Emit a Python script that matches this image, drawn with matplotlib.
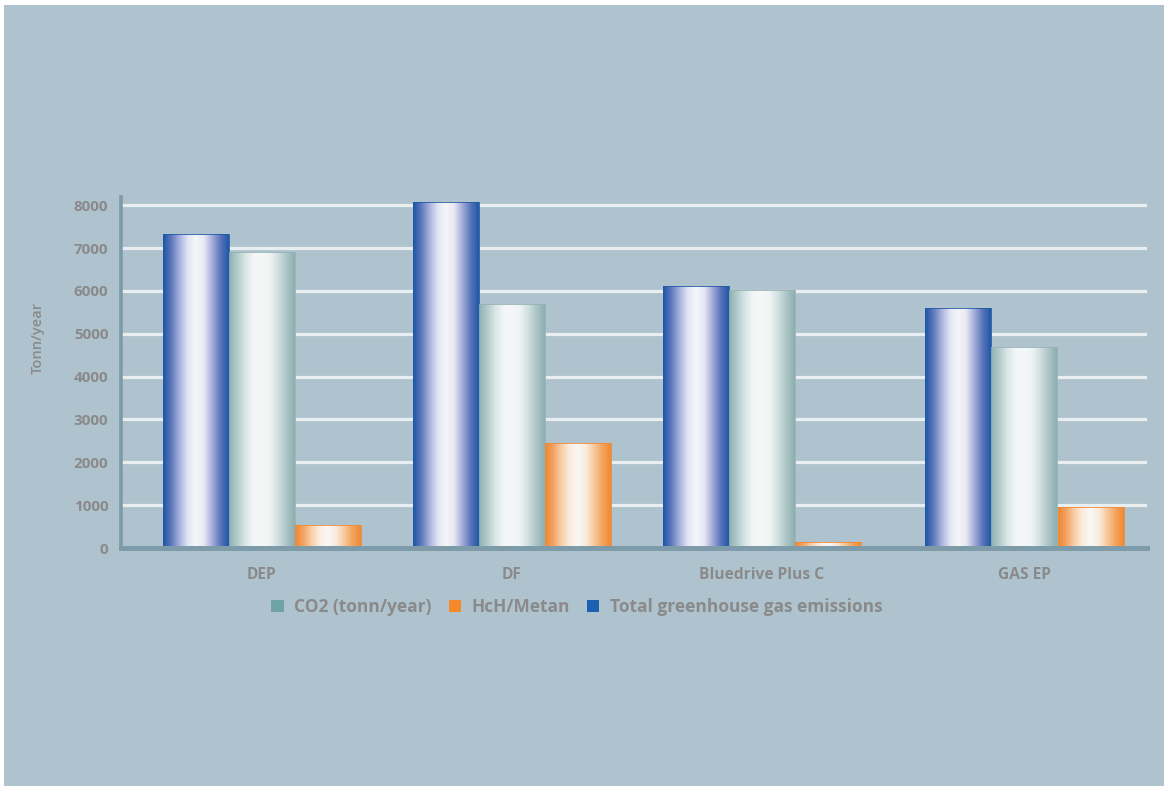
import numpy as np
import matplotlib
matplotlib.use("Agg")
import matplotlib.pyplot as plt
from matplotlib.colors import LinearSegmentedColormap
from matplotlib.patches import Patch, Rectangle

# ---- data -------------------------------------------------------------
categories = ["DEP", "DF", "Bluedrive Plus C", "GAS EP"]
total_ghg = [7330, 8080, 6120, 5610]   # Total greenhouse gas emissions
co2 = [6900, 5700, 6030, 4680]         # CO2 (tonn/year)
hch_metan = [530, 2440, 150, 950]      # HcH/Metan
y_ticks = [0, 1000, 2000, 3000, 4000, 5000, 6000, 7000, 8000]

# ---- layout / style ---------------------------------------------------
group_pos = np.array([0.0, 1.0, 2.0, 3.05])
bar_w = 0.264
bg = "#afc3ce"
axis_col = "#7d9ba8"
text_col = "#8a8a8a"
font = ["Open Sans", "DejaVu Sans"]

gradients = {
    "blue": ["#1a55a5", "#5f78bd", "#a7b1dc", "#e2e5f3", "#f6f7fa",
             "#e6e8f4", "#a3acd9", "#5a74bb", "#1f58a7"],
    "green": ["#8fb0b1", "#b3cbcb", "#dbe6e6", "#f3f6f6", "#f6f8f8",
              "#eef3f3", "#d0dfdf", "#abc4c4", "#8eaeaf"],
    "orange": ["#ef8630", "#f3a463", "#f8cfa8", "#fbeee2", "#f8f7f6",
               "#faeadb", "#f7c89b", "#f2a35d", "#ee8a35"],
}
edge_cols = {"blue": "#2159a6", "green": "#94b3b4", "orange": "#ef8a35"}
legend_cols = {"green": "#6fa3a6", "orange": "#f5892a", "blue": "#1e60b0"}

fig = plt.figure(figsize=(11.64, 7.86), dpi=100, facecolor="white")
fig.patches.append(Rectangle((4 / 1164, 0), 1 - 4 / 1164, 1 - 5 / 786,
                             transform=fig.transFigure, facecolor=bg,
                             edgecolor="none", zorder=-10))

ax = fig.add_axes([121 / 1164, 1 - 548 / 786, (1147 - 121) / 1164, 351 / 786])
ax.set_facecolor("none")

series = [(total_ghg, "blue", -bar_w), (co2, "green", 0.0), (hch_metan, "orange", bar_w)]

for values, key, offset in series:
    cmap = LinearSegmentedColormap.from_list(key, gradients[key])
    grad = np.linspace(0, 1, 256).reshape(1, -1)
    bars = ax.bar(group_pos + offset, values, width=bar_w, facecolor="none",
                  edgecolor=edge_cols[key], linewidth=0.6, zorder=3)
    for rect in bars:
        x0, y0 = rect.get_x(), rect.get_y()
        x1, y1 = x0 + rect.get_width(), y0 + rect.get_height()
        im = ax.imshow(grad, cmap=cmap, extent=[x0, x1, y0, y1],
                       aspect="auto", interpolation="bilinear", zorder=2)
        im.set_clip_path(rect)

ax.set_xlim(-0.564, 3.54)
ax.set_ylim(0, 8190)

# horizontal grid
for t in y_ticks[1:]:
    ax.axhline(t, color="#e9eef0", linewidth=2.3, zorder=1)

# spines
for s in ("top", "right"):
    ax.spines[s].set_visible(False)
ax.spines["left"].set_color(axis_col)
ax.spines["left"].set_linewidth(2.6)
ax.spines["bottom"].set_color(axis_col)
ax.spines["bottom"].set_linewidth(3.6)
ax.spines["bottom"].set_capstyle("projecting")
ax.spines["left"].set_capstyle("projecting")
ax.spines["left"].set_zorder(4)
ax.spines["bottom"].set_zorder(4)

ax.set_yticks(y_ticks)
ax.set_yticklabels([str(t) for t in y_ticks])
ax.set_xticks(group_pos)
ax.set_xticklabels(categories)
ax.tick_params(axis="both", length=0)
ax.tick_params(axis="y", pad=9)
ax.tick_params(axis="x", pad=14)
for lab in ax.get_yticklabels():
    lab.set_fontfamily(font)
    lab.set_fontweight("bold")
    lab.set_fontsize(11)
    lab.set_color(text_col)
for lab in ax.get_xticklabels():
    lab.set_fontfamily(font)
    lab.set_fontweight("bold")
    lab.set_fontsize(11.2)
    lab.set_color(text_col)

ax.set_ylabel("Tonn/year", family=font, fontweight="semibold", fontsize=10.5,
              color=text_col)
ax.yaxis.set_label_coords(-0.074, 0.598)

handles = [Patch(facecolor=legend_cols["green"], edgecolor="none"),
           Patch(facecolor=legend_cols["orange"], edgecolor="none"),
           Patch(facecolor=legend_cols["blue"], edgecolor="none")]
labels = ["CO2 (tonn/year)", "HcH/Metan", "Total greenhouse gas emissions"]
leg = fig.legend(handles, labels, loc="center",
                 bbox_to_anchor=(577 / 1164, 1 - 607 / 786), ncol=3,
                 frameon=False, handlelength=0.7, handleheight=0.7,
                 handletextpad=0.6, columnspacing=1.0,
                 prop={"family": font, "weight": "bold", "size": 12.5})
for t in leg.get_texts():
    t.set_color(text_col)

fig.savefig("out.png", dpi=100, facecolor="white")
